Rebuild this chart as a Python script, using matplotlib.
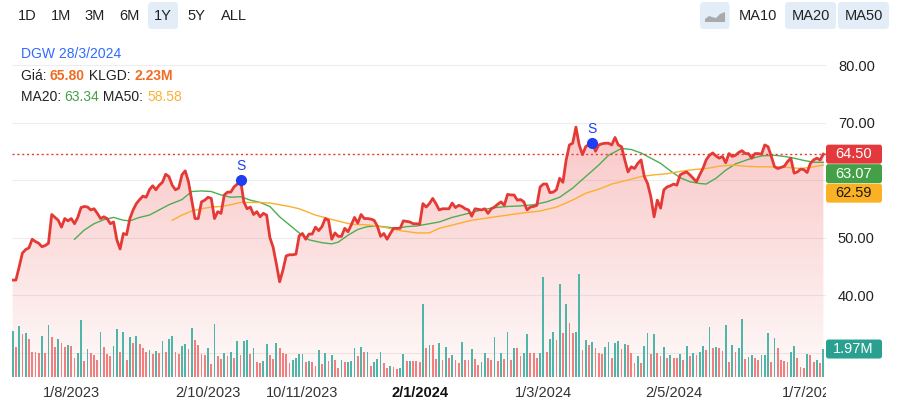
import numpy as np
import pandas as pd
import matplotlib
matplotlib.use('Agg')
import matplotlib.pyplot as plt
from matplotlib.patches import FancyBboxPatch, Polygon
from matplotlib.transforms import Bbox, TransformedBbox, IdentityTransform

plt.rcParams['font.family'] = ['Liberation Sans', 'DejaVu Sans']

# ---- data -------------------------------------------------------------
start, end = '2023-07-06', '2024-07-05'
holidays = ['2023-09-01', '2023-09-04', '2024-01-01', '2024-02-08', '2024-02-09',
            '2024-02-12', '2024-02-13', '2024-02-14', '2024-04-18', '2024-04-29',
            '2024-04-30', '2024-05-01']

price = [
    42.6, 42.6, 44.9, 47.3, 47.9, 48.2, 49.7, 49.3, 49.0, 48.4,
    48.6, 49.0, 54.0, 53.5, 53.0, 51.8, 53.3, 52.9, 53.3, 52.4,
    53.5, 55.2, 55.4, 55.3, 54.8, 55.0, 54.2, 53.3, 53.6, 53.3,
    52.4, 52.7, 49.6, 48.0, 50.7, 50.5, 53.3, 54.8, 55.9, 56.6,
    57.2, 57.0, 58.3, 59.0, 58.3, 59.1, 59.6, 61.0, 60.6, 59.1,
    58.3, 58.6, 60.9, 61.6, 59.7, 56.5, 53.3, 53.3, 56.2, 56.5,
    57.0, 56.8, 53.3, 54.5, 54.2, 57.4, 57.9, 57.9, 58.8, 59.3,
    60.0, 56.2, 55.0, 55.3, 54.0, 54.5, 53.6, 54.2, 53.9, 50.0,
    48.3, 45.4, 42.3, 44.3, 46.8, 47.0, 47.0, 47.1, 50.3, 50.7,
    49.7, 50.6, 50.6, 51.8, 51.2, 51.9, 53.3, 53.0, 49.7, 50.8,
    50.2, 50.2, 51.6, 51.0, 52.2, 53.5, 52.5, 54.0, 53.3, 53.3,
    53.2, 53.0, 52.0, 50.2, 50.7, 49.7, 50.7, 51.6, 51.6, 51.6,
    52.9, 52.8, 52.7, 52.4, 52.4, 52.3, 55.9, 55.3, 55.9, 56.8,
    55.9, 54.8, 55.0, 55.0, 55.0, 56.0, 55.2, 55.6, 55.4, 55.0,
    54.8, 53.7, 55.0, 54.9, 54.8, 55.0, 54.2, 55.0, 55.3, 55.8,
    56.2, 55.6, 57.5, 57.4, 57.4, 56.5, 56.6, 56.2, 54.8, 55.3,
    55.4, 55.6, 58.8, 59.3, 59.3, 57.8, 57.9, 58.3, 60.3, 59.6,
    63.5, 66.1, 66.4, 69.2, 66.1, 64.4, 65.8, 66.2, 66.5, 65.0,
    66.1, 66.3, 66.4, 66.4, 66.1, 67.4, 66.1, 65.8, 63.5, 61.4,
    62.3, 62.0, 62.9, 63.5, 60.6, 59.4, 57.1, 53.6, 56.5, 55.1,
    58.3, 58.8, 59.0, 59.3, 59.1, 60.9, 61.2, 61.4, 60.9, 60.3,
    59.7, 60.9, 62.0, 63.5, 64.3, 64.7, 64.2, 63.8, 64.1, 63.0,
    64.6, 64.1, 64.3, 64.8, 65.1, 64.6, 64.6, 63.8, 64.6, 64.6,
    64.5, 66.1, 65.8, 64.1, 62.3, 62.0, 62.2, 62.4, 63.2, 63.8,
    61.2, 61.4, 61.9, 61.8, 61.3, 62.9, 63.5, 63.8, 63.5, 64.5,
]

# volume in millions of shares
volume = [
    3.24, 2.11, 3.57, 3.00, 3.08, 2.65, 1.78, 1.78, 1.69, 2.91,
    1.69, 3.64, 2.82, 2.11, 2.65, 2.42, 2.11, 2.25, 2.18, 1.36,
    1.69, 4.04, 1.13, 1.95, 1.69, 1.53, 1.20, 3.17, 2.11, 1.60,
    1.46, 2.18, 3.40, 1.78, 3.17, 1.22, 2.82, 2.42, 2.91, 2.35,
    2.02, 1.78, 1.88, 1.62, 1.85, 1.69, 2.51, 1.78, 2.68, 2.91,
    1.78, 1.62, 2.18, 2.35, 1.95, 3.47, 2.61, 2.25, 1.62, 1.53,
    2.02, 0.89, 3.71, 1.46, 1.29, 1.69, 1.46, 1.78, 1.36, 2.51,
    1.53, 2.51, 2.58, 1.62, 2.02, 1.06, 0.96, 1.13, 2.35, 1.53,
    1.29, 2.42, 2.02, 1.69, 1.62, 0.96, 1.20, 1.36, 1.60, 1.62,
    1.06, 1.13, 1.06, 0.80, 1.88, 0.89, 1.69, 1.13, 1.53, 1.22,
    0.63, 1.22, 1.06, 1.06, 1.13, 2.02, 1.46, 2.11, 1.78, 1.78,
    0.80, 1.06, 1.29, 1.78, 0.96, 0.63, 0.80, 0.73, 0.56, 0.63,
    1.62, 1.13, 1.13, 1.13, 1.13, 1.06, 5.12, 2.02, 2.25, 2.25,
    1.29, 2.42, 1.20, 2.11,
    1.36, 1.53, 1.20, 0.96, 2.46, 1.20, 1.20, 1.95, 1.29, 0.82,
    1.06, 1.69, 1.36, 1.20, 2.82, 1.13, 1.69, 1.29, 3.17, 1.20,
    2.02, 2.02, 1.46, 1.69, 3.00, 1.69, 1.69, 1.36, 1.69, 7.04,
    1.78, 2.65, 3.17, 2.58, 6.53, 3.08, 5.16, 3.83, 3.08, 3.17,
    7.23, 1.88, 2.58, 2.25, 2.49, 2.02, 1.69, 1.60, 2.11, 2.49,
    1.36, 2.42, 2.51, 1.95, 2.35, 2.25, 1.69, 0.96, 1.46, 0.96,
    2.18, 3.10, 1.60, 3.00, 1.69, 1.46, 2.11, 1.36, 1.53, 1.36,
    1.36, 1.60, 1.20, 2.18, 1.46, 1.69, 1.53, 1.76, 2.18, 1.88,
    3.54, 2.02, 2.11, 2.02, 1.83, 3.64, 1.06, 2.25, 1.78, 2.02,
    4.06, 1.29, 1.43, 1.53, 1.36, 1.20, 1.53, 1.53, 3.08, 1.06,
    2.75, 2.02, 1.20, 1.13, 1.06, 1.78, 2.18, 1.36, 0.70, 0.63,
    1.62, 1.53, 1.06, 1.20, 0.96, 1.97,
]
# g = up day, r = down day
vol_dir = ("grgrgrrrrg" "rgrrgrrgrr" "ggrgrrrgrr" "rggrgrgrgr" "rrgrgrgrgg"
           "rrggrgrrrr" "grgrrgrgrg" "rggrgrrggr" "rgrrrrgggg" "rgrrgrgrgr"
           "rgrgggrgrg" "rgggrrgrrg" "grgrrrgrgr" "rgrg"
           "rgrrgrrgrr" "ggrrgrgrgr" "grrggrrrgg" "rggrgrgrrg" "grgrgrrrgg"
           "rggrgrrrgr" "ggrgrrgrgr" "rgrgrgrggr" "grgrrgrgrg" "grggrrgggr"
           "grrrrggrrr" "grrgrg")

ma20_day = [19, 22, 25, 28, 31, 34, 36, 39, 42, 45, 48, 52, 55, 58, 61, 64, 67, 70,
            73, 76, 79, 82, 85, 88, 91, 95, 98, 100, 103, 106, 109, 112, 115, 118,
            121, 124, 127, 131, 135, 140, 144, 148, 152, 156, 160, 164, 168, 172,
            176, 180, 183, 187, 190, 193, 196, 199, 202, 205, 208, 211, 213, 216,
            219, 222, 226, 230, 234, 237, 240, 243, 246, 249]
ma20 = [49.7, 51.3, 52.4, 53.1, 53.5, 53.0, 52.9, 53.5, 53.9, 54.8, 55.7, 56.6,
        58.0, 58.1, 58.0, 57.4, 57.0, 57.1, 56.5, 56.1, 55.4, 53.6, 52.2, 50.8,
        49.6, 49.1, 48.9, 49.2, 50.4, 51.4, 51.9, 52.0, 51.8, 51.6, 51.9, 52.0,
        52.3, 52.7, 53.5, 54.2, 54.8, 55.2, 55.4, 55.5, 55.7, 56.2, 57.0, 58.6,
        60.6, 62.6, 64.3, 65.5, 65.3, 64.7, 63.8, 62.9, 61.6, 60.4, 59.7, 59.4,
        59.3, 60.3, 61.7, 62.8, 63.6, 64.2, 64.3, 64.1, 63.8, 63.4, 63.1, 63.07]

ma50_day = [49, 52, 55, 58, 61, 64, 67, 70, 73, 76, 79, 82, 85, 88, 93, 99, 104,
            109, 114, 119, 124, 128, 131, 136, 141, 147, 152, 157, 162, 167, 170,
            173, 176, 180, 184, 189, 193, 197, 201, 205, 209, 213, 217, 221, 225,
            229, 233, 238, 242, 246, 249]
ma50 = [53.0, 53.9, 54.6, 55.0, 55.3, 55.4, 55.7, 56.1, 56.1, 56.1, 56.0, 55.7,
        55.4, 55.0, 53.9, 53.0, 52.3, 52.2, 51.8, 51.2, 50.8, 50.8, 51.6, 52.3,
        53.0, 53.5, 53.9, 54.3, 54.6, 55.3, 56.0, 56.8, 57.7, 58.4, 59.3, 60.0,
        60.6, 60.9, 61.1, 61.5, 61.8, 62.0, 62.4, 62.6, 62.4, 62.3, 62.3, 62.2,
        62.0, 62.3, 62.59]

signal_day = [70, 178]
signal_text = ['S', 'S']

last_price, last_ma20, last_ma50 = 64.50, 63.07, 62.59
last_vol = 1.97

tick_dates = ['2023-08-01', '2023-10-02', '2023-11-10', '2024-01-02',
              '2024-03-01', '2024-05-02', '2024-07-01']
tick_labels = ['1/8/2023', '2/10/2023', '10/11/2023', '2/1/2024',
               '1/3/2024', '2/5/2024', '1/7/2024']
bold_ticks = ['2/1/2024']

price_ticks = [40, 50, 70, 80]
grid_levels = [30, 40, 50, 60, 70, 80]

ranges = ['1D', '1M', '3M', '6M', '1Y', '5Y', 'ALL']
info_title = 'DGW 28/3/2024'
info_price, info_vol = '65.80', '2.23M'
info_ma20, info_ma50 = '63.34', '58.58'

# ---- figure -----------------------------------------------------------
days = pd.bdate_range(start, end)
days = days[~days.isin(pd.to_datetime(holidays))]
n = len(price)
x = np.arange(n)
tick_pos = [days.get_loc(pd.Timestamp(d)) for d in tick_dates]

W, H = 897, 407
fig = plt.figure(figsize=(W / 100, H / 100), dpi=100)


def fx(px):
    return px / W


def fy(py):
    return 1 - py / H


ax = fig.add_axes([fx(12), fy(377), (826 - 12) / W, (377 - 38) / H])
ylo, yhi = 25.74, 84.7

# gradient fill under the price
alpha = np.linspace(0.03, 0.30, 256)
rgba = np.zeros((256, 1, 4))
rgba[..., 0], rgba[..., 1], rgba[..., 2] = 0.93, 0.27, 0.27
rgba[..., 3] = alpha[:, None]
im = ax.imshow(rgba, extent=[-0.2, n - 0.2, ylo, max(price)], origin='lower',
               aspect='auto', zorder=1, interpolation='bilinear')
poly = ax.fill_between(x, price, ylo, facecolor='none', edgecolor='none')
im.set_clip_path(poly.get_paths()[0], transform=ax.transData)

for v in grid_levels:
    ax.axhline(v, color='#ededed', lw=0.8, zorder=0)

ax.plot(x, price, color='#e53935', lw=2, zorder=4, solid_joinstyle='round')
ax.plot(ma20_day, ma20, color='#4caf50', lw=1, zorder=3)
ax.plot(ma50_day, ma50, color='#fbb02d', lw=1, zorder=3)
ax.axhline(last_price, color='#e53935', lw=1, ls=(0, (1.5, 2)), zorder=3)

sig_y = [price[d] for d in signal_day]
ax.plot(signal_day, sig_y, 'o', color='#1f3ef2', ms=7, zorder=5)
for d, yv, s in zip(signal_day, sig_y, signal_text):
    ax.annotate(s, (d, yv), xytext=(0, 10), textcoords='offset points',
                ha='center', va='center', color='#1f3ef2', fontsize=10)

ax.set_xlim(-0.2, n - 0.2)
ax.set_ylim(ylo, yhi)
for sp in ax.spines.values():
    sp.set_visible(False)
ax.yaxis.tick_right()
ax.set_yticks(price_ticks)
ax.set_yticklabels([f'{v:.2f}' for v in price_ticks])
ax.tick_params(axis='y', length=0, pad=8.6, labelsize=10.5, colors='#222222')
ax.set_xticks(tick_pos)
ax.set_xticklabels(tick_labels)
ax.tick_params(axis='x', length=0, pad=6.5, labelsize=10.5, colors='#333333')
clip = TransformedBbox(Bbox([[0, 0], [fx(826), 1]]), fig.transFigure)
for lbl in ax.get_xticklabels():
    if lbl.get_text() in bold_ticks:
        lbl.set_fontweight('bold')
        lbl.set_color('#111111')
    lbl.set_clip_on(True)
    lbl.set_clip_box(clip)

# volume
vax = fig.add_axes(ax.get_position(), sharex=ax)
vax.patch.set_visible(False)
vax.set_ylim(0, (377 - 38) / 14.2)
vax.bar(x, volume, width=0.55, linewidth=0,
        color=['#4fb5a8' if c == 'g' else '#f27f7f' for c in vol_dir], zorder=2)
vax.set_yticks([])
vax.tick_params(axis='x', length=0, labelbottom=False)
for sp in vax.spines.values():
    sp.set_visible(False)

ident = IdentityTransform()


def tag(y_disp, text, face, tcolor):
    fig.add_artist(FancyBboxPatch((826, y_disp - 9.5), 56, 19,
                                  boxstyle='round,pad=0,rounding_size=2.5',
                                  transform=ident, facecolor=face, edgecolor='none'))
    fig.text(fx(853.5), y_disp / H, text, color=tcolor, fontsize=10.5,
             ha='center', va='center')


fig.canvas.draw()
y_price = ax.transData.transform((0, last_price))[1]
tag(y_price, f'{last_price:.2f}', '#e3393c', 'white')
tag(y_price - 19.5, f'{last_ma20:.2f}', '#43a047', 'white')
tag(y_price - 39, f'{last_ma50:.2f}', '#fbb124', '#1a1a1a')
tag(vax.transData.transform((0, last_vol))[1], f'{last_vol:.2f}M', '#2aa190', 'white')

# range buttons
fig.add_artist(FancyBboxPatch((148, H - 29), 30, 27, boxstyle='round,pad=0,rounding_size=4',
                              transform=ident, facecolor='#e3edf7', edgecolor='none'))
for label, cx in zip(ranges, [27, 61, 95, 129, 163, 196, 234]):
    fig.text(fx(cx), fy(15.5), label, fontsize=10.5, color='#222222', ha='center', va='center')

# chart options on the right
for bx, bw in [(700, 29.5), (785, 51), (838, 51)]:
    fig.add_artist(FancyBboxPatch((bx, H - 29), bw, 27, boxstyle='round,pad=0,rounding_size=4',
                                  transform=ident, facecolor='#e3edf7', edgecolor='none'))
icon = [(705, 22), (705, 19), (709, 16), (712, 17), (716, 18), (720, 14), (725, 12), (725, 22)]
fig.add_artist(Polygon([(px, H - py) for px, py in icon], closed=True, transform=ident,
                       facecolor='#9a9a9a', edgecolor='none', alpha=0.8))
for label, cx in [('MA10', 757.5), ('MA20', 810.5), ('MA50', 863.5)]:
    fig.text(fx(cx), fy(15.5), label, fontsize=10.5, color='#222222', ha='center', va='center')

# info lines
renderer = fig.canvas.get_renderer()


def runs(x0, y0, parts):
    xp = x0
    for s, c, w in parts:
        t = fig.text(fx(xp), fy(y0), s, color=c, fontsize=10, fontweight=w,
                     ha='left', va='center')
        xp += t.get_window_extent(renderer=renderer).width


dark = '#222222'
runs(20.5, 54, [(info_title, '#2f6bff', 'normal')])
runs(20.5, 76, [('Giá: ', dark, 'normal'), (info_price, '#f26b21', 'bold'),
                (' KLGD: ', dark, 'normal'), (info_vol, '#f26b21', 'bold')])
runs(20.5, 97, [('MA20: ', dark, 'normal'), (info_ma20, '#43a047', 'normal'),
                (' MA50: ', dark, 'normal'), (info_ma50, '#f9b233', 'normal')])

fig.savefig('out.png', dpi=100)
